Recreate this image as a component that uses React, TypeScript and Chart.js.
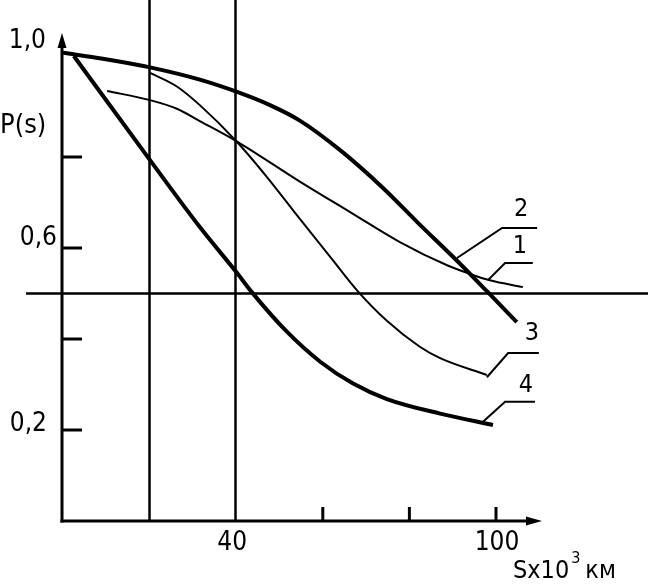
import React, { useEffect, useRef } from 'react';
import { Chart, registerables } from 'chart.js';

Chart.register(...registerables);

// Curve data: S (x 10^3 km) and P(s)
const curve1S = [10.2, 20.1, 26.3, 31.6, 40.2, 54.7, 66.3, 77.8, 88.7, 94.0, 98.6, 106.2];
const curve1P = [0.945, 0.925, 0.906, 0.879, 0.834, 0.746, 0.679, 0.613, 0.562, 0.543, 0.529, 0.514];
const curve2S = [0, 9.2, 20.1, 31.6, 40.2, 47.8, 54.7, 64.0, 73.9, 81.8, 91.0, 97.9, 104.8];
const curve2P = [1.029, 1.016, 0.997, 0.97, 0.943, 0.914, 0.88, 0.815, 0.732, 0.657, 0.572, 0.505, 0.437];
const curve3S = [20.1, 26.3, 31.6, 40.2, 47.1, 54.7, 62.4, 67.9, 74.8, 82.4, 87.1, 97.9];
const curve3P = [0.985, 0.955, 0.914, 0.833, 0.756, 0.664, 0.572, 0.507, 0.44, 0.383, 0.358, 0.321];
const curve4S = [2.5, 20.1, 31.6, 40.2, 43.6, 51.7, 59.4, 67.0, 74.8, 87.1, 99.3];
const curve4P = [1.022, 0.793, 0.646, 0.545, 0.503, 0.416, 0.35, 0.302, 0.268, 0.236, 0.211];

const curveNames = ['1', '2', '3', '4'];

// Axis ticks and labels
const yTickValues = [0.2, 0.4, 0.6, 0.8];
const xTickValues = [60, 80, 100];
const yTickLabels = ['1,0', '0,6', '0,2'];
const yTickLabelValues = [1.0, 0.6, 0.2];
const xTickLabels = ['40', '100'];
const xTickLabelValues = [40, 100];
const refLinesX = [20, 40];
const refLineY = 0.5;
const yAxisTitle = 'P(s)';
const xAxisTitle = 'Sx10';
const xAxisTitleSup = '3';
const xAxisTitleUnit = 'км';

// Leader lines for curve numbers: [curve point, elbow, end] in data units, and label position
const leaders = [
  { name: '2', pts: [[91.0, 0.578], [101.4, 0.644], [109.5, 0.644]], label: [105.8, 0.684] },
  { name: '1', pts: [[98.2, 0.53], [102.1, 0.567], [108.5, 0.567]], label: [105.5, 0.604] },
  { name: '3', pts: [[97.9, 0.316], [102.8, 0.369], [109.9, 0.369]], label: [108.3, 0.413] },
  { name: '4', pts: [[97.0, 0.218], [102.1, 0.262], [109.0, 0.262]], label: [106.9, 0.297] },
];

const toPts = (xs: number[], ys: number[]) => xs.map((x, i) => ({ x, y: ys[i] }));

const FONT = '"Liberation Sans Narrow", "DejaVu Sans Condensed", "Liberation Sans", sans-serif';

const drawPlugin = {
  id: 'drawing',
  beforeDatasetsDraw(chart: any) {
    const ctx = chart.ctx as CanvasRenderingContext2D;
    const xs = chart.scales.x;
    const ys = chart.scales.y;
    const x0 = xs.getPixelForValue(0) - 1;
    const y0 = ys.getPixelForValue(0);
    ctx.save();
    ctx.strokeStyle = '#000';
    ctx.fillStyle = '#000';
    ctx.lineCap = 'butt';

    // reference lines
    ctx.lineWidth = 2.5;
    refLinesX.forEach((v) => {
      const px = Math.round(xs.getPixelForValue(v)) - 0.5;
      ctx.beginPath();
      ctx.moveTo(px, 0);
      ctx.lineTo(px, y0);
      ctx.stroke();
    });
    const hy = ys.getPixelForValue(refLineY);
    ctx.beginPath();
    ctx.moveTo(26, hy);
    ctx.lineTo(648, hy);
    ctx.stroke();

    // axes
    ctx.lineWidth = 3;
    ctx.beginPath();
    ctx.moveTo(x0, y0 + 1.5);
    ctx.lineTo(x0, 44);
    ctx.stroke();
    ctx.beginPath();
    ctx.moveTo(x0 - 4.5, 48);
    ctx.lineTo(x0, 33);
    ctx.lineTo(x0 + 4.5, 48);
    ctx.closePath();
    ctx.fill();

    ctx.beginPath();
    ctx.moveTo(x0 - 1.5, y0);
    ctx.lineTo(530, y0);
    ctx.stroke();
    ctx.beginPath();
    ctx.moveTo(526, y0 - 4.5);
    ctx.lineTo(542, y0);
    ctx.lineTo(526, y0 + 4.5);
    ctx.closePath();
    ctx.fill();

    // ticks
    yTickValues.forEach((v) => {
      const py = ys.getPixelForValue(v);
      ctx.beginPath();
      ctx.moveTo(x0, py);
      ctx.lineTo(x0 + 20, py);
      ctx.stroke();
    });
    xTickValues.forEach((v) => {
      const px = xs.getPixelForValue(v);
      ctx.beginPath();
      ctx.moveTo(px, y0);
      ctx.lineTo(px, y0 - 14);
      ctx.stroke();
    });

    // tick labels
    ctx.font = `26px ${FONT}`;
    ctx.textAlign = 'right';
    ctx.textBaseline = 'alphabetic';
    const yLabelRight = [46, 57, 47];
    const yLabelShift = [-18, -3, 1];
    yTickLabels.forEach((t, i) => {
      const py = ys.getPixelForValue(yTickLabelValues[i]);
      ctx.fillText(t, yLabelRight[i], py + yLabelShift[i]);
    });
    ctx.textAlign = 'center';
    ctx.textBaseline = 'top';
    const xLabelShift = [-4, 1];
    xTickLabels.forEach((t, i) => {
      const px = xs.getPixelForValue(xTickLabelValues[i]);
      ctx.fillText(t, px + xLabelShift[i], y0 + 9);
    });

    // axis titles
    ctx.textAlign = 'left';
    ctx.textBaseline = 'alphabetic';
    ctx.font = `27px ${FONT}`;
    ctx.fillText(yAxisTitle, 0, 133);
    ctx.font = `25px ${FONT}`;
    let tx = 513;
    ctx.fillText(xAxisTitle, tx, 578);
    tx += ctx.measureText(xAxisTitle).width + 2;
    ctx.font = `16px ${FONT}`;
    ctx.fillText(xAxisTitleSup, tx, 563);
    tx += ctx.measureText(xAxisTitleSup).width + 5;
    ctx.font = `25px ${FONT}`;
    ctx.fillText(xAxisTitleUnit, tx, 578);

    // leaders
    ctx.lineWidth = 2;
    ctx.font = `25px ${FONT}`;
    ctx.textAlign = 'center';
    ctx.textBaseline = 'middle';
    leaders.forEach((l) => {
      ctx.beginPath();
      l.pts.forEach((p, i) => {
        const px = xs.getPixelForValue(p[0]);
        const py = ys.getPixelForValue(p[1]);
        if (i === 0) ctx.moveTo(px, py);
        else ctx.lineTo(px, py);
      });
      ctx.stroke();
      ctx.fillText(l.name, xs.getPixelForValue(l.label[0]), ys.getPixelForValue(l.label[1]));
    });
    ctx.restore();
  },
};

export default function App() {
  const ref = useRef<HTMLCanvasElement | null>(null);
  useEffect(() => {
    if (!ref.current) return;
    const mk = (name: string, xs: number[], ys: number[], w: number) => ({
      label: name,
      data: toPts(xs, ys),
      borderColor: '#000',
      backgroundColor: '#000',
      borderWidth: w,
      pointRadius: 0,
      cubicInterpolationMode: 'monotone' as const,
      fill: false,
      clip: false as any,
    });
    const chart = new Chart(ref.current, {
      type: 'line',
      data: {
        datasets: [
          mk(curveNames[0], curve1S, curve1P, 2),
          mk(curveNames[1], curve2S, curve2P, 4),
          mk(curveNames[2], curve3S, curve3P, 2),
          mk(curveNames[3], curve4S, curve4P, 4),
        ],
      },
      options: {
        responsive: false,
        animation: false,
        layout: { padding: { left: 63, right: 108.7, top: 20.5, bottom: 64 } },
        scales: {
          x: { type: 'linear', min: 0, max: 110, display: false },
          y: { type: 'linear', min: 0, max: 1.1, display: false },
        },
        plugins: { legend: { display: false }, tooltip: { enabled: false } },
      },
      plugins: [drawPlugin],
    });
    return () => chart.destroy();
  }, []);
  return (
    <div style={{ position: 'fixed', left: 0, top: 0, width: 648, height: 585, background: '#fff' }}>
      <canvas ref={ref} width={648} height={585} style={{ display: 'block' }} />
    </div>
  );
}
